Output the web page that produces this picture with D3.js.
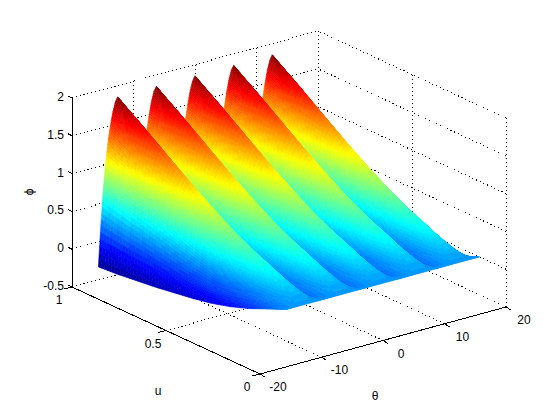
<!DOCTYPE html>
<html><head><meta charset="utf-8">
<script src="https://cdn.jsdelivr.net/npm/d3@7"></script>
<style>html,body{margin:0;padding:0;background:#fff}text{font-family:"Liberation Sans",Arial,sans-serif;font-size:12px;fill:#000}</style>
</head><body><svg id="c" width="560" height="420"></svg>
<script>
const thetaTicks=[-20,-10,0,10,20];
const uTicks=[0,0.5,1];
const phiTicks=[-0.5,0,0.5,1,1.5,2];
const phiTickLabels=["-0.5","0","0.5","1","1.5","2"];
const ridgeCentres=[-4,-2,0,2,4];
const halfPeriodSteps=[0,1,2,3,4,5,6,7,8];
const uRows=[1,0.9,0.8,0.7,0.6,0.5,0.4,0.3,0.2,0.1,0];
const phiRows=[
[-0.33,0.21,0.67,1.02,1.30,1.50,1.67,1.79,1.85],
[-0.31,0.17,0.59,0.92,1.18,1.36,1.52,1.63,1.67],
[-0.28,0.13,0.51,0.82,1.05,1.22,1.36,1.45,1.48],
[-0.25,0.09,0.43,0.71,0.92,1.08,1.20,1.27,1.29],
[-0.21,0.06,0.35,0.60,0.80,0.95,1.04,1.09,1.11],
[-0.17,0.04,0.28,0.49,0.67,0.80,0.88,0.92,0.93],
[-0.12,0.03,0.22,0.40,0.55,0.66,0.73,0.76,0.77],
[-0.05,0.05,0.19,0.33,0.45,0.54,0.60,0.62,0.63],
[0.04,0.09,0.18,0.28,0.37,0.44,0.49,0.50,0.51],
[0.15,0.17,0.21,0.26,0.31,0.35,0.37,0.385,0.39],
[0.26,0.26,0.26,0.26,0.26,0.26,0.26,0.26,0.26]];
const jetStops=[0,0.125,0.375,0.625,0.875,1];
const jetColors=["#000090","#0000ff","#00ffff","#ffff00","#ff0000","#800000"];

const xTheta=d3.scaleLinear([-20,20],[0,246]);
const yTheta=d3.scaleLinear([-20,20],[0,-67]);
const xU=d3.scaleLinear([1,0],[72,260]);
const yU=d3.scaleLinear([1,0],[287,374]);
const yPhi=d3.scaleLinear([-0.5,2],[0,-189]);
const P=(t,u,z)=>[xTheta(t)+xU(u),yTheta(t)+yU(u)+yPhi(z)];
const jet=d3.scaleLinear(jetStops,jetColors);
const color=d3.scaleQuantize([-0.33,1.85],d3.range(64).map(i=>jet((i+0.5)/64)));
const svg=d3.select("#c");
const line=d3.line();

// grid
const grid=[];
const f=-0.5,top_=2;
thetaTicks.forEach(t=>{grid.push([P(t,0,f),P(t,1,f)]);grid.push([P(t,1,f),P(t,1,top_)]);});
uTicks.forEach(u=>{grid.push([P(-20,u,f),P(20,u,f)]);grid.push([P(20,u,f),P(20,u,top_)]);});
phiTicks.forEach(z=>{grid.push([P(-20,1,z),P(20,1,z)]);grid.push([P(20,0,z),P(20,1,z)]);});
svg.append("g").selectAll("path").data(grid).join("path").attr("d",line)
 .attr("fill","none").attr("stroke","#000").attr("stroke-width",1).attr("stroke-dasharray","1 3").attr("shape-rendering","crispEdges");

// surface: mesh columns across the five periods
const cols=[];
ridgeCentres.forEach((c,ci)=>{
  const lo=ci===0?0:1;
  for(let s=lo;s<halfPeriodSteps.length;s++) cols.push({t:(c-1+s/8)*Math.PI,i:s});
  for(let s=7;s>=0;s--) cols.push({t:(c+1-s/8)*Math.PI,i:s});
});
const NT=6,NU=6,quads=[];
for(let c=cols.length-2;c>=0;c--){
 const a=cols[c],b=cols[c+1];
 for(let st=NT-1;st>=0;st--){
  for(let r=0;r<uRows.length-1;r++){
   for(let su=0;su<NU;su++){
    const pt=(i,j)=>{
      const tf=i/NT,uf=j/NU;
      const t=d3.interpolateNumber(a.t,b.t)(tf);
      const u=d3.interpolateNumber(uRows[r],uRows[r+1])(uf);
      const z0=d3.interpolateNumber(phiRows[r][a.i],phiRows[r][b.i])(tf);
      const z1=d3.interpolateNumber(phiRows[r+1][a.i],phiRows[r+1][b.i])(tf);
      return {p:P(t,u,z0+(z1-z0)*uf),z:z0+(z1-z0)*uf};
    };
    const q=[pt(st,su),pt(st+1,su),pt(st+1,su+1),pt(st,su+1)];
    quads.push({path:q.map(d=>d.p),z:d3.mean(q,d=>d.z)});
   }
  }
 }
}
svg.append("g").selectAll("path").data(quads).join("path")
 .attr("d",d=>line(d.path)+"Z").attr("fill",d=>color(d.z)).attr("stroke",d=>color(d.z)).attr("stroke-width",0.6);

// axes
const ax=svg.append("g").attr("fill","none").attr("stroke","#000").attr("shape-rendering","crispEdges");
const seg=(g,a,b)=>g.append("path").attr("d",line([a,b]));
seg(ax,P(-20,1,-0.5),P(-20,1,2));
seg(ax,P(-20,1,-0.5),P(-20,0,-0.5));
seg(ax,P(-20,0,-0.5),P(20,0,-0.5));
phiTicks.forEach(z=>{const p=P(-20,1,z);seg(ax,p,[p[0]-4,p[1]-2]);});
uTicks.forEach(u=>{const p=P(-20,u,-0.5);seg(ax,p,[p[0]-8,p[1]+2]);});
thetaTicks.forEach(t=>{const p=P(t,0,-0.5);seg(ax,p,[p[0]+5,p[1]+3]);});

// labels
const tx=(s,x,y,a)=>svg.append("text").text(s).attr("x",x).attr("y",y).attr("text-anchor",a||"middle").attr("dominant-baseline","central");
phiTicks.forEach((z,i)=>{const p=P(-20,1,z);tx(phiTickLabels[i],p[0]-8,p[1]-1,"end");});
uTicks.forEach(u=>{const p=P(-20,u,-0.5);tx(String(u),p[0]-13,p[1]+13);});
thetaTicks.forEach(t=>{const p=P(t,0,-0.5);tx(String(t),p[0]+18,p[1]+13);});
tx("u",158,391);
tx("θ",375,396);
svg.append("text").text("ϕ").attr("text-anchor","middle").attr("dominant-baseline","central")
 .attr("transform","translate(29,192) rotate(-90)");
</script></body></html>
